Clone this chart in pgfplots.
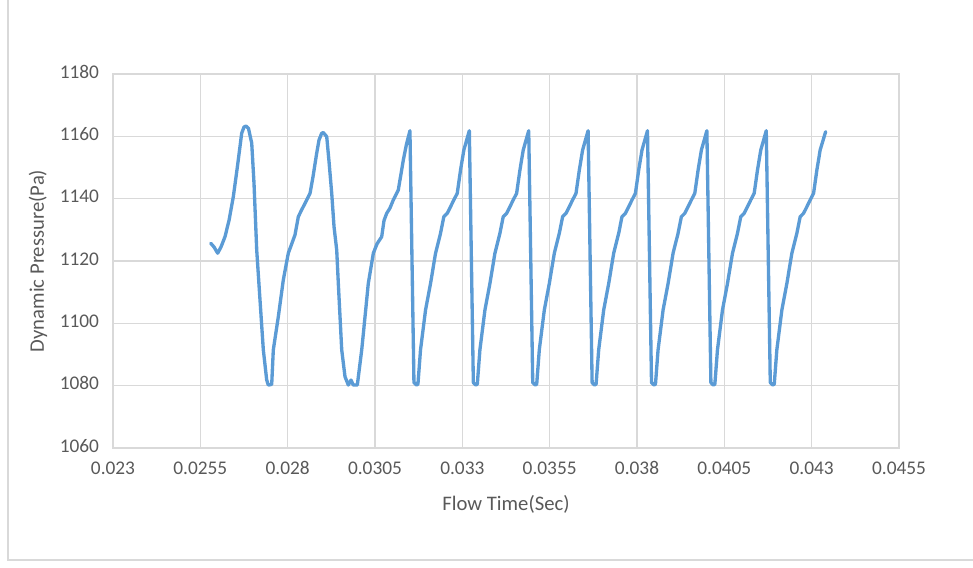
\documentclass[border=0pt]{standalone}
\usepackage{fontspec}
\setmainfont{Carlito}
\usepackage{pgfplots}
\pgfplotsset{compat=1.18}
\definecolor{linec}{HTML}{5B9BD5}
\definecolor{gridc}{HTML}{D9D9D9}
\definecolor{txtc}{HTML}{595959}
\begin{document}
\begin{tikzpicture}
\useasboundingbox (-84.75pt,-89.25pt) rectangle (645pt,336pt);
\draw[gridc, line width=1.3pt] (-78.75pt,336pt) -- (-78.75pt,-84pt) -- (645pt,-84pt);
\begin{axis}[
  at={(0,0)}, anchor=south west,
  scale only axis, width=589.5pt, height=280.5pt,
  xmin=0.023, xmax=0.0455, ymin=1060, ymax=1180,
  scaled x ticks=false, scaled y ticks=false,
  xtick={0.023,0.0255,0.028,0.0305,0.033,0.0355,0.038,0.0405,0.043,0.0455},
  xticklabels={0.023,0.0255,0.028,0.0305,0.033,0.0355,0.038,0.0405,0.043,0.0455},
  ytick={1060,1080,1100,1120,1140,1160,1180},
  yticklabels={1060,1080,1100,1120,1140,1160,1180},
  typeset ticklabels with strut,
  grid=major,
  major grid style={gridc, line width=1.1pt},
  axis line style={gridc, line width=1.1pt},
  major tick length=0pt,
  tick label style={font=\fontsize{14.5}{16}\selectfont, text=txtc},
  xticklabel style={yshift=-5pt},
  yticklabel style={xshift=-7pt},
  label style={font=\fontsize{15.5}{18}\selectfont, text=txtc},
  xlabel={Flow Time(Sec)},
  ylabel={Dynamic Pressure(Pa)},
  xlabel style={at={(axis description cs:0.5,-0.152)}, anchor=center},
  ylabel style={at={(axis description cs:-0.0954,0.5)}, anchor=center},
  clip=false,
]
\addplot[linec, line width=2.5pt, line join=round, line cap=round] table {
x y
0.025797 1125.7
0.025891 1124.5
0.025997 1122.5
0.026092 1124.5
0.026206 1127.8
0.026321 1133.0
0.026444 1140.6
0.026564 1150.5
0.026684 1161.0
0.026750 1163.0
0.026807 1163.3
0.026879 1162.5
0.026971 1157.8
0.027036 1145.0
0.027114 1123.5
0.027208 1107.5
0.027303 1091.5
0.027400 1081.8
0.027446 1080.2
0.027543 1080.4
0.027589 1091.5
0.027732 1102.1
0.027875 1113.9
0.028018 1122.5
0.028116 1125.5
0.028210 1128.4
0.028305 1134.2
0.028382 1136.0
0.028496 1138.5
0.028640 1141.7
0.028725 1147.0
0.028831 1154.6
0.028897 1158.8
0.028974 1161.0
0.029020 1161.2
0.029118 1159.9
0.029183 1152.0
0.029261 1141.7
0.029327 1131.0
0.029404 1123.5
0.029450 1112.8
0.029547 1091.5
0.029641 1082.9
0.029736 1080.2
0.029813 1081.8
0.029879 1080.2
0.029994 1080.2
0.030120 1091.5
0.030214 1102.1
0.030308 1112.8
0.030452 1122.5
0.030558 1125.5
0.030692 1127.8
0.030758 1133.0
0.030835 1135.3
0.030930 1137.0
0.031024 1139.6
0.031167 1142.8
0.031245 1148.0
0.031311 1152.4
0.031402 1157.5
0.031500 1161.8
0.031615 1081.0
0.031686 1080.2
0.031729 1080.5
0.031803 1091.5
0.031947 1104.3
0.032090 1112.8
0.032233 1122.5
0.032376 1128.9
0.032470 1134.2
0.032568 1135.3
0.032662 1137.4
0.032757 1139.6
0.032854 1141.7
0.032949 1149.2
0.033043 1155.6
0.033200 1161.8
0.033315 1081.0
0.033386 1080.2
0.033429 1080.5
0.033503 1091.5
0.033647 1104.3
0.033790 1112.8
0.033933 1122.5
0.034076 1128.9
0.034170 1134.2
0.034268 1135.3
0.034362 1137.4
0.034457 1139.6
0.034554 1141.7
0.034649 1149.2
0.034743 1155.6
0.034900 1161.8
0.035015 1081.0
0.035086 1080.2
0.035129 1080.5
0.035203 1091.5
0.035347 1104.3
0.035490 1112.8
0.035633 1122.5
0.035776 1128.9
0.035870 1134.2
0.035968 1135.3
0.036062 1137.4
0.036157 1139.6
0.036254 1141.7
0.036349 1149.2
0.036443 1155.6
0.036600 1161.8
0.036715 1081.0
0.036786 1080.2
0.036829 1080.5
0.036903 1091.5
0.037047 1104.3
0.037190 1112.8
0.037333 1122.5
0.037476 1128.9
0.037570 1134.2
0.037668 1135.3
0.037762 1137.4
0.037857 1139.6
0.037954 1141.7
0.038049 1149.2
0.038143 1155.6
0.038300 1161.8
0.038415 1081.0
0.038486 1080.2
0.038529 1080.5
0.038603 1091.5
0.038747 1104.3
0.038890 1112.8
0.039033 1122.5
0.039176 1128.9
0.039270 1134.2
0.039368 1135.3
0.039462 1137.4
0.039557 1139.6
0.039654 1141.7
0.039749 1149.2
0.039843 1155.6
0.040000 1161.8
0.040115 1081.0
0.040186 1080.2
0.040229 1080.5
0.040303 1091.5
0.040447 1104.3
0.040590 1112.8
0.040733 1122.5
0.040876 1128.9
0.040970 1134.2
0.041068 1135.3
0.041162 1137.4
0.041257 1139.6
0.041354 1141.7
0.041449 1149.2
0.041543 1155.6
0.041700 1161.8
0.041815 1081.0
0.041886 1080.2
0.041929 1080.5
0.042003 1091.5
0.042147 1104.3
0.042290 1112.8
0.042433 1122.5
0.042576 1128.9
0.042670 1134.2
0.042768 1135.3
0.042862 1137.4
0.042957 1139.6
0.043054 1141.7
0.043149 1149.2
0.043243 1155.6
0.043400 1161.5
};
\end{axis}
\end{tikzpicture}
\end{document}
